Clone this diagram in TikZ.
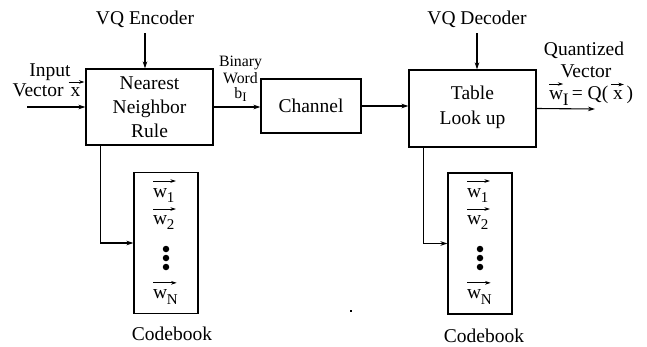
\documentclass[tikz,border=0pt]{standalone}
\usepackage{fontspec}
\setmainfont{Liberation Serif}
\usetikzlibrary{arrows.meta}
% letter with a small arrow drawn above it: #1 letter, #2 subscript, #3 arrow height, #4 left ext, #5 right ext, #6 arrow over subscript (1) or not (0)
\newcommand{\vecltr}[6]{\tikz[baseline=(t.base),x=1pt,y=1pt]{%
  \node[inner sep=0pt,outer sep=0pt,anchor=base west](t) at (0,0){#1};%
  \node[inner sep=0pt,outer sep=0pt,anchor=base west](s) at ([xshift=-0.5pt]t.base east){#2};%
  \ifnum#6=1
    \draw[-{Stealth[length=5.5pt,width=3.6pt]},line width=0.65pt] (-#4,#3) -- ([xshift=#5pt]s.east |- 0,#3);%
  \else
    \draw[-{Stealth[length=5.5pt,width=3.6pt]},line width=0.65pt] (-#4,#3) -- ([xshift=#5pt]t.east |- 0,#3);%
  \fi}}
\newcommand{\subtxt}[2]{\raisebox{-#1}{\fontsize{15}{15}\selectfont #2}}
\begin{document}
\begin{tikzpicture}[x=1pt,y=-1pt, line width=1.1pt,
  >={Stealth[length=7pt,width=4.5pt]},
  txt/.style={font=\fontsize{19.5}{24.5}\selectfont, align=center, inner sep=0pt, anchor=base},
  small/.style={font=\fontsize{15.8}{17.5}\selectfont, inner sep=0pt, anchor=base},
  box/.style={draw, line width=1.1pt, inner sep=0pt, font=\fontsize{19.5}{24.2}\selectfont, align=center},
  cb/.style={draw, line width=1.1pt, minimum width=64pt, minimum height=141pt, inner sep=0pt},
  dot/.style={circle, fill, inner sep=0pt, minimum size=6.5pt}]
\useasboundingbox (0,0) rectangle (647,346);

% boxes
\node[box, minimum width=127pt, minimum height=76pt] (enc) at (149.5,107) {Nearest\\Neighbor\\Rule};
\node[box, minimum width=100pt, minimum height=54pt] (ch) at (311,106) {Channel};
\node[box, minimum width=127pt, minimum height=77pt] (dec) at (472.5,108.5) {};
\node[txt] (dectxt1) at (472.5,99.3) {Table};
\node[txt] (dectxt2) at (472.5,124) {Look up};
\node[cb] (cb1) at (166,243) {};
\node[cb] (cb2) at (480,243.5) {};

% codebook contents
\foreach \n/\cx in {a/134,b/448}{
  \node[txt, anchor=base west] (w1\n) at (\cx+18.7,197) {\vecltr{w}{\subtxt{5pt}{1}}{16}{0}{1.5}{1}};
  \node[txt, anchor=base west] (w2\n) at (\cx+18.7,224) {\vecltr{w}{\subtxt{5pt}{2}}{15}{0}{1.5}{1}};
  \node[dot] (d1\n) at (\cx+32,249) {};
  \node[dot] (d2\n) at (\cx+32,258) {};
  \node[dot] (d3\n) at (\cx+32,267) {};
  \node[txt, anchor=base west] (wN\n) at (\cx+18.7,298.8) {\vecltr{w}{\subtxt{6pt}{N}}{16}{0}{-1}{1}};
}

% labels
\node[txt] (vqe) at (145,24) {VQ Encoder};
\node[txt] (vqd) at (477,24) {VQ Decoder};
\node[txt] (inp) at (50,76) {Input};
\node[txt, anchor=base east] (vec) at (85,96.5) {Vector \vecltr{x}{}{14.5}{2}{4}{0}};
\node[small] (bw1) at (240.5,66) {Binary};
\node[small] (bw2) at (240.5,83.3) {Word};
\node[small] (bw3) at (240.5,98.3) {b\raisebox{-3pt}{\fontsize{13}{13}\selectfont I}};
\node[txt] (qv1) at (584,55) {Quantized};
\node[txt] (qv2) at (586,77) {Vector};
\node[txt] (qf) at (591,99) {\vecltr{w}{\raisebox{-6pt}{\fontsize{17.5}{17.5}\selectfont I}}{15}{0}{0}{0}\,= Q(\kern2.5pt\vecltr{x}{}{14.5}{2}{1}{0}\kern2.5pt)};
\node[txt] (cbl1) at (172,340) {Codebook};
\node[txt] (cbl2) at (484,342.5) {Codebook};

% coordinates
\coordinate (in) at (27,107);
\coordinate (out) at (595,109);
\coordinate (e1) at (100.7,145);
\coordinate (e2) at (423.3,147);
\coordinate (es) at (145,33);
\coordinate (ds) at (477,33);

% connectors
\draw[->] (es) -- (es |- enc.north);
\draw[->] (ds) -- (ds |- dec.north);
\draw[->] (in) -- (in -| enc.west);
\draw[->] (enc.east) -- (enc.east -| ch.west);
\draw[->] (ch.east) -- (ch.east -| dec.west);
\draw[->] (dec.east) -- (out);
\draw[->] (e1 |- enc.south) |- (cb1.west);
\draw[->] (e2 |- dec.south) |- (cb2.west);

% stray speck
\fill (350,310) rectangle (352,311.5);
\end{tikzpicture}
\end{document}
